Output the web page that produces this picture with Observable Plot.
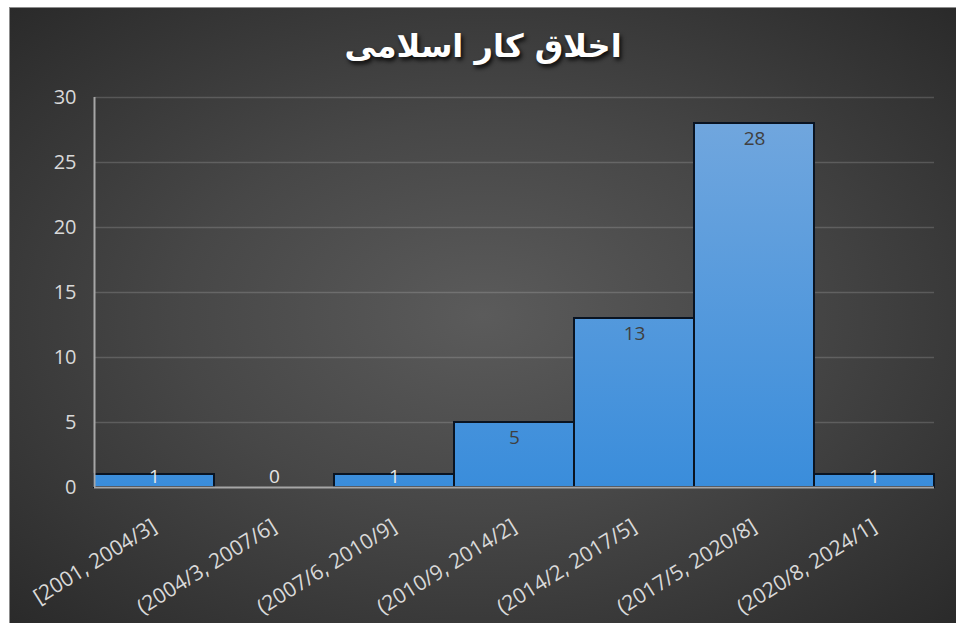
<!DOCTYPE html>
<html>
<head>
<meta charset="utf-8">
<script src="https://cdn.jsdelivr.net/npm/d3@7"></script>
<script src="https://cdn.jsdelivr.net/npm/@observablehq/plot@0.6"></script>
<style>
  html, body { margin: 0; padding: 0; background: #ffffff; }
  #frame {
    position: absolute; left: 9px; top: 7px; width: 947px; height: 616px;
    box-sizing: border-box;
    border-top: 1px solid #8c8c8c; border-left: 1px solid #8c8c8c;
    background: radial-gradient(ellipse farthest-corner at 50% 50%, #5b5b5b 0%, #474747 45%, #2a2a2a 100%);
    overflow: hidden;
  }
  #title {
    position: absolute; left: 0; top: 19px; width: 100%; text-align: center;
    font-family: "DejaVu Sans", sans-serif; font-weight: bold; font-size: 32px;
    color: #ffffff; direction: rtl;
    text-shadow: 2px 3px 4px rgba(0,0,0,0.85);
  }
  #chart { position: absolute; left: -1px; top: -1px; }
</style>
</head>
<body>
<div id="frame">
  <div id="title">اخلاق کار اسلامی</div>
  <div id="chart"></div>
</div>
<script>
const categories = ["[2001, 2004/3]", "(2004/3, 2007/6]", "(2007/6, 2010/9]", "(2010/9, 2014/2]", "(2014/2, 2017/5]", "(2017/5, 2020/8]", "(2020/8, 2024/1]"];
const counts = [1, 0, 1, 5, 13, 28, 1];
const yTicks = [0, 5, 10, 15, 20, 25, 30];

const data = categories.map((c, i) => ({i, bin: c, count: counts[i]}));
const centers = data.map(d => d.i + 0.5);

const chart = Plot.plot({
  width: 947,
  height: 616,
  marginLeft: 85,
  marginRight: 22,
  marginTop: 90,
  marginBottom: 136,
  style: {background: "transparent", fontFamily: "'Open Sans', sans-serif", overflow: "visible"},
  x: {domain: [0, categories.length], label: null},
  y: {domain: [0, 30], label: null},
  marks: [
    Plot.gridY(yTicks.filter(t => t > 0), {stroke: "#ffffff", strokeOpacity: 0.16, strokeWidth: 1.5}),
    Plot.rect(data, {x1: "i", x2: d => d.i + 1, y1: 0, y2: "count", fill: "url(#barGrad)", stroke: "#0a1422", strokeWidth: 2}),
    Plot.ruleY([0], {stroke: "#a6a6a6", strokeWidth: 2}),
    Plot.ruleX([0], {stroke: "#a6a6a6", strokeWidth: 2}),
    Plot.axisY(yTicks, {tickSize: 0, tickPadding: 18, fontSize: 20, fill: "#d9d9d9", label: null}),
    Plot.axisX(centers, {tickSize: 0, tickPadding: 37, tickRotate: -32, fontSize: 21, fill: "#d9d9d9", label: null,
      tickFormat: d => categories[Math.floor(d)]}),
    Plot.text(data.filter(d => d.count >= 2), {x: d => d.i + 0.5, y: "count", text: d => String(d.count), dy: 15, fontSize: 19, fill: "#404040"}),
    Plot.text(data.filter(d => d.count < 2), {x: d => d.i + 0.5, y: 0, text: d => String(d.count), dy: -11, fontSize: 19, fill: "#e6e6e6"})
  ]
});

d3.select(chart).insert("defs", ":first-child").html(
  '<linearGradient id="barGrad" gradientUnits="userSpaceOnUse" x1="0" y1="90" x2="0" y2="480">' +
  '<stop offset="0" stop-color="#74a8de"/><stop offset="1" stop-color="#3a8ddb"/></linearGradient>'
);
document.getElementById("chart").appendChild(chart);
</script>
</body>
</html>
